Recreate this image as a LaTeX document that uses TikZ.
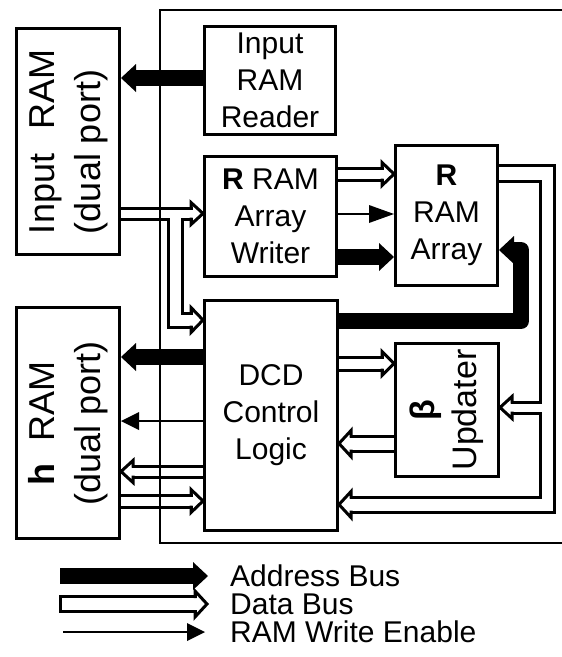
\documentclass[tikz,border=0pt]{standalone}
\usepackage{fontspec}
\setmainfont{Liberation Sans}
\usetikzlibrary{arrows.meta,calc}
\tikzset{
  box/.style={draw, line width=3pt, inner sep=0pt, align=center, font=\fontsize{30}{37}\selectfont},
  addr/.style={line width=16pt, -{Triangle[length=15pt,width=28pt,line width=0pt]}},
  wen/.style={line width=2.5pt, -{Triangle[length=18pt,width=18pt,line width=0pt]}},
  wenbig/.style={line width=2.5pt, -{Triangle[length=25pt,width=18pt,line width=0pt]}},
  dbl/.style={line width=3pt, line cap=rect},
  legtext/.style={inner sep=0pt, anchor=west, font=\fontsize{30}{37}\selectfont},
  dhead/.pic={\draw[line width=3pt, line cap=rect, line join=miter] (-12,-#1) -- (-12,-#1-5.5) -- (0,0) -- (-12,#1+5.5) -- (-12,#1);}
}
\begin{document}
\begin{tikzpicture}[x=1pt,y=-1pt]
\useasboundingbox (0,0) rectangle (562,657);
% frame
\draw[line width=1.5pt] (562,10) -- (160,10) -- (160,543) -- (562,543);
% boxes
\node[box, anchor=north west, minimum width=103pt, minimum height=226pt] (inram) at (15,27)
  {\rotatebox{90}{\fontsize{36}{46}\selectfont\begin{tabular}{@{}l@{}}\makebox[185pt]{Input\hfill RAM}\\(dual port)\end{tabular}}};
\node[box, anchor=north west, minimum width=131pt, minimum height=108pt] (reader) at (203,25) {Input\\RAM\\Reader};
\node[box, anchor=north west, minimum width=132pt, minimum height=120pt] (writer) at (203,155) {\textbf{R} RAM\\Array\\Writer};
\node[box, anchor=north west, minimum width=102pt, minimum height=140pt] (array) at (394,144) {\textbf{R}\\RAM\\Array};
\node[box, anchor=north west, minimum width=133pt, minimum height=230pt] (dcd) at (203,299) {DCD\\Control\\Logic};
\node[box, anchor=north west, minimum width=103pt, minimum height=133pt] (upd) at (394,342)
  {\rotatebox{90}{\fontsize{34}{42}\selectfont\begin{tabular}{@{}c@{}}\textbf{β}\\Updater\end{tabular}}};
\node[box, anchor=north west, minimum width=103pt, minimum height=231pt] (hram) at (15,306)
  {\rotatebox{90}{\fontsize{36}{46}\selectfont\begin{tabular}{@{}c@{}}\textbf{h}\hspace{22pt}RAM\\(dual port)\end{tabular}}};

% Input RAM Reader -> Input RAM (address)
\draw[addr] (reader.west |- 0,78) -- (inram.east |- 0,78);

% Input RAM -> Writer (data) with fork to DCD
\draw[dbl] (inram.east |- 0,208) -- ($(writer.west |- 0,208)+(-12,0)$);
\draw[dbl] (inram.east |- 0,219) -- (168,219) -- (168,327) -- ($(dcd.west |- 0,327)+(-12,0)$);
\draw[dbl] ($(writer.west |- 0,219)+(-12,0)$) -- (182,219) -- (182,313) -- ($(dcd.west |- 0,313)+(-12,0)$);
\path (writer.west |- 0,213.5) pic {dhead=5.5};
\path (dcd.west |- 0,320) pic {dhead=7};

% Writer -> R RAM Array
\draw[dbl] (writer.east |- 0,168) -- ($(array.west |- 0,168)+(-12,0)$);
\draw[dbl] (writer.east |- 0,180) -- ($(array.west |- 0,180)+(-12,0)$);
\path (array.west |- 0,174) pic {dhead=6};
\draw[wenbig] (writer.east |- 0,214) -- (array.west |- 0,214);
\draw[addr] (writer.east |- 0,257) -- (array.west |- 0,257);

% DCD -> R RAM Array (address)
\draw[addr, line join=round] (dcd.east |- 0,321) -| (521,250) -- (array.east |- 0,250);

% R RAM Array -> Updater and DCD (data)
\draw[dbl] (array.east |- 0,165) -- (554,165) -- (554,512) -- ($(dcd.east |- 0,512)+(12,0)$);
\draw[dbl] (array.east |- 0,181) -- (540,181) -- (540,402) -- ($(upd.east |- 0,402)+(12,0)$);
\draw[dbl] ($(upd.east |- 0,413)+(12,0)$) -- (540,413) -- (540,497) -- ($(dcd.east |- 0,497)+(12,0)$);
\path (upd.east |- 0,407.5) pic[rotate=180] {dhead=5.5};
\path (dcd.east |- 0,504.5) pic[rotate=180] {dhead=7.5};

% DCD -> Updater
\draw[dbl] (dcd.east |- 0,357) -- ($(upd.west |- 0,357)+(-12,0)$);
\draw[dbl] (dcd.east |- 0,370) -- ($(upd.west |- 0,370)+(-12,0)$);
\path (upd.west |- 0,363.5) pic {dhead=6.5};

% Updater -> DCD
\draw[dbl] (upd.west |- 0,436) -- ($(dcd.east |- 0,436)+(12,0)$);
\draw[dbl] (upd.west |- 0,451) -- ($(dcd.east |- 0,451)+(12,0)$);
\path (dcd.east |- 0,443.5) pic[rotate=180] {dhead=7.5};

% DCD <-> h RAM
\draw[addr] (dcd.west |- 0,357) -- (hram.east |- 0,357);
\draw[wen] (dcd.west |- 0,421) -- (hram.east |- 0,421);
\draw[dbl] (dcd.west |- 0,466) -- ($(hram.east |- 0,466)+(12,0)$);
\draw[dbl] (dcd.west |- 0,477) -- ($(hram.east |- 0,477)+(12,0)$);
\path (hram.east |- 0,471.5) pic[rotate=180] {dhead=5.5};
\draw[dbl] (hram.east |- 0,495) -- ($(dcd.west |- 0,495)+(-12,0)$);
\draw[dbl] (hram.east |- 0,507) -- ($(dcd.west |- 0,507)+(-12,0)$);
\path (dcd.west |- 0,501) pic {dhead=6};

% legend
\node[legtext] (lg1) at (230,576) {Address Bus};
\node[legtext] (lg2) at (230,604) {Data Bus};
\node[legtext] (lg3) at (230,632) {RAM Write Enable};
\coordinate (ls1) at (60,576);
\coordinate (ls2) at (60,604);
\coordinate (ls3) at (63,632);
\draw[addr] (ls1) -- ($(lg1.west)+(-22,0)$);
\draw[dbl] ($(ls2)+(0,-7.5)$) -- ($(lg2.west |- 0,596.5)+(-35,0)$);
\draw[dbl] ($(ls2)+(0,7.5)$) -- ($(lg2.west |- 0,611.5)+(-35,0)$);
\draw[dbl] ($(ls2)+(0,-7.5)$) -- ($(ls2)+(0,7.5)$);
\path ($(lg2.west)+(-23,0)$) pic {dhead=7.5};
\draw[wen] (ls3) -- ($(lg3.west)+(-25,0)$);
\end{tikzpicture}
\end{document}
